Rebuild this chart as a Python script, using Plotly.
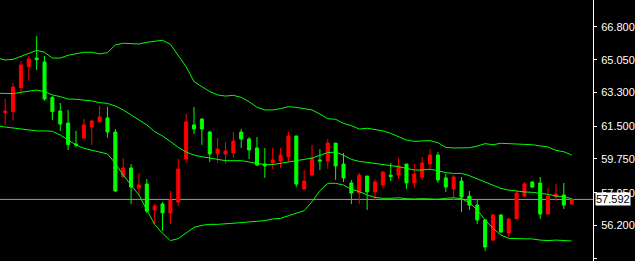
import plotly.graph_objects as go

# ---- data ----
opens = [62.22, 62.28, 63.56, 64.68, 65.14, 64.93, 63.03, 62.31, 61.67, 60.55,
         60.87, 61.46, 61.73, 61.94, 61.19, 58.79, 59.27, 58.20, 58.41, 57.03,
         57.35, 56.87, 57.45, 59.75, 61.57, 61.89, 61.19, 60.02, 60.02, 60.07,
         61.19, 60.82, 60.34, 59.48, 59.54, 59.64, 59.86, 60.98, 58.15, 58.89,
         59.70, 59.64, 60.60, 59.48, 58.47, 57.93, 58.84, 57.99, 58.36, 58.89,
         58.89, 59.48, 58.47, 58.79, 59.48, 59.96, 58.74, 58.15, 58.57, 57.77,
         57.29, 56.49, 55.42, 56.76, 55.80, 56.55, 57.77, 58.52, 58.47, 56.81,
         57.72, 57.83, 57.35]
highs = [62.95, 63.81, 64.98, 65.25, 66.32, 65.25, 63.11, 62.74, 62.37, 61.25,
         61.89, 61.83, 62.58, 62.53, 61.35, 59.80, 59.48, 59.00, 58.68, 57.35,
         57.45, 58.04, 59.75, 62.15, 62.53, 61.89, 61.25, 60.87, 60.66, 61.19,
         61.35, 60.92, 60.92, 60.34, 60.34, 60.34, 61.19, 60.98, 59.16, 60.50,
         60.28, 60.82, 60.60, 60.07, 58.63, 59.00, 58.84, 58.68, 59.06, 59.54,
         59.80, 59.48, 59.48, 59.86, 60.28, 60.11, 58.95, 58.89, 58.79, 58.04,
         57.61, 56.55, 56.81, 56.81, 56.55, 58.09, 58.52, 58.57, 58.79, 58.20,
         58.41, 58.47, 57.67]
lows = [61.57, 61.80, 63.19, 63.93, 64.50, 62.86, 61.83, 61.25, 60.23, 60.39,
        60.82, 60.50, 61.73, 60.89, 57.99, 58.79, 57.35, 57.83, 56.87, 56.28,
        55.91, 56.28, 57.24, 59.54, 61.08, 60.50, 59.59, 59.54, 59.48, 59.80,
        60.34, 59.75, 59.38, 58.74, 59.22, 59.27, 59.59, 58.25, 58.09, 58.84,
        59.16, 59.22, 58.63, 58.52, 57.35, 57.35, 57.03, 57.56, 58.20, 58.57,
        58.68, 58.15, 58.20, 58.63, 59.22, 58.47, 57.99, 57.56, 56.92, 57.03,
        56.28, 54.84, 55.37, 55.80, 55.58, 56.55, 57.72, 58.20, 56.55, 56.81,
        57.51, 57.08, 57.29]
closes = [62.31, 63.59, 64.77, 65.09, 65.05, 62.95, 62.28, 61.62, 60.52, 60.50,
          61.57, 61.78, 61.99, 61.19, 58.04, 59.27, 58.25, 58.36, 56.97, 57.24,
          56.87, 57.56, 59.22, 61.73, 61.35, 61.35, 60.02, 60.28, 60.18, 60.71,
          60.82, 60.23, 59.43, 59.38, 59.70, 59.96, 60.98, 58.41, 58.57, 59.80,
          59.64, 60.60, 59.38, 58.74, 57.93, 58.89, 57.99, 58.52, 59.06, 58.81,
          59.38, 58.47, 58.95, 59.54, 59.96, 58.63, 58.25, 58.79, 57.72, 57.29,
          56.49, 55.05, 56.76, 55.85, 56.55, 57.93, 58.41, 58.25, 56.81, 57.77,
          57.88, 57.29, 57.592]

# Bollinger bands (one value per bar, starting one bar before the first candle)
band_upper = [65.14, 65.04, 65.07, 65.25, 65.39, 65.55, 65.45, 65.14, 65.14, 65.29,
              65.39, 65.45, 65.45, 65.36, 65.43, 65.84, 65.93, 65.93, 65.89, 65.98,
              66.03, 66.09, 65.87, 65.30, 64.68, 63.88, 63.61, 63.35, 63.17, 63.11,
              63.15, 63.04, 62.81, 62.51, 62.37, 62.37, 62.44, 62.54, 62.51, 62.44,
              62.37, 62.15, 61.90, 61.87, 61.65, 61.53, 61.35, 61.39, 61.33, 61.25,
              61.12, 60.94, 60.76, 60.69, 60.69, 60.73, 60.62, 60.37, 60.34, 60.34,
              60.35, 60.44, 60.57, 60.51, 60.59, 60.57, 60.53, 60.53, 60.51, 60.44,
              60.39, 60.21, 60.14, 59.96]
band_middle = [63.26, 63.26, 63.24, 63.31, 63.39, 63.43, 63.35, 63.17, 63.08, 62.95,
               62.94, 62.90, 62.85, 62.76, 62.72, 62.58, 62.37, 62.10, 61.83, 61.57,
               61.21, 60.98, 60.68, 60.37, 60.12, 59.96, 59.87, 59.80, 59.73, 59.66,
               59.66, 59.66, 59.59, 59.52, 59.45, 59.45, 59.52, 59.59, 59.62, 59.73,
               59.80, 59.95, 60.09, 60.12, 59.95, 59.73, 59.62, 59.57, 59.52, 59.46,
               59.41, 59.34, 59.25, 59.16, 59.16, 59.20, 59.13, 59.02, 58.98, 58.98,
               58.86, 58.68, 58.50, 58.34, 58.18, 58.09, 58.02, 57.99, 57.97, 57.92,
               57.86, 57.77, 57.74, 57.63]
band_lower = [61.51, 61.46, 61.44, 61.39, 61.30, 61.25, 61.25, 61.23, 61.03, 60.76,
              60.50, 60.32, 60.23, 60.14, 60.02, 59.52, 58.89, 58.36, 57.83, 57.03,
              56.25, 55.78, 55.39, 55.50, 55.78, 56.10, 56.21, 56.26, 56.26, 56.28,
              56.30, 56.35, 56.39, 56.42, 56.46, 56.55, 56.58, 56.72, 56.85, 56.99,
              57.47, 58.06, 58.45, 58.45, 58.36, 58.13, 58.01, 57.83, 57.70, 57.65,
              57.65, 57.68, 57.63, 57.61, 57.63, 57.60, 57.60, 57.65, 57.68, 57.63,
              57.42, 57.03, 56.49, 56.05, 55.69, 55.51, 55.51, 55.50, 55.48, 55.42,
              55.39, 55.42, 55.39, 55.37]

tick_values = [66.80, 65.05, 63.30, 61.50, 59.75, 57.95, 56.20, 54.45]
tick_labels = ["66.800", "65.050", "63.300", "61.500", "59.750", "57.950", "56.200", "54.450"]
current_price = 57.592
current_label = "57.592"

bars = list(range(len(opens)))
band_x = list(range(-1, len(opens)))

fig = go.Figure()
fig.add_trace(go.Candlestick(
    x=bars, open=opens, high=highs, low=lows, close=closes,
    increasing=dict(line=dict(color="#ff0000", width=1), fillcolor="#ff0000"),
    decreasing=dict(line=dict(color="#00ff00", width=1), fillcolor="#00ff00"),
    whiskerwidth=0, hoverinfo="skip", showlegend=False,
))
for band in (band_upper, band_middle, band_lower):
    fig.add_trace(go.Scatter(
        x=band_x, y=band, mode="lines",
        line=dict(color="#00ff00", width=1, shape="linear"),
        hoverinfo="skip", showlegend=False,
    ))

fig.add_shape(type="line", xref="paper", x0=0, x1=1, yref="y",
              y0=current_price, y1=current_price,
              line=dict(color="#9a9a9a", width=1), layer="below")

fig.add_annotation(x=1, xref="paper", xanchor="left", xshift=2,
                   y=current_price, yref="y", yanchor="middle",
                   text=current_label, showarrow=False,
                   font=dict(family="Liberation Sans", size=11, color="black"),
                   bgcolor="white", borderpad=0)

fig.update_layout(
    width=635, height=261,
    margin=dict(l=0, r=32, t=0, b=0),
    paper_bgcolor="black", plot_bgcolor="black",
    boxgap=0.45,
    xaxis=dict(range=[-0.66, 74.71], visible=False, showgrid=False,
               rangeslider=dict(visible=False), fixedrange=True),
    yaxis=dict(range=[54.303, 68.24], side="right", showgrid=False, zeroline=False,
               showline=True, linecolor="white", linewidth=1,
               ticks="outside", ticklen=3, tickcolor="white", tickwidth=1,
               ticklabelstandoff=2,
               tickvals=tick_values, ticktext=tick_labels,
               tickfont=dict(family="Liberation Sans", size=11, color="white"),
               fixedrange=True),
)

fig.write_html("out.html")
